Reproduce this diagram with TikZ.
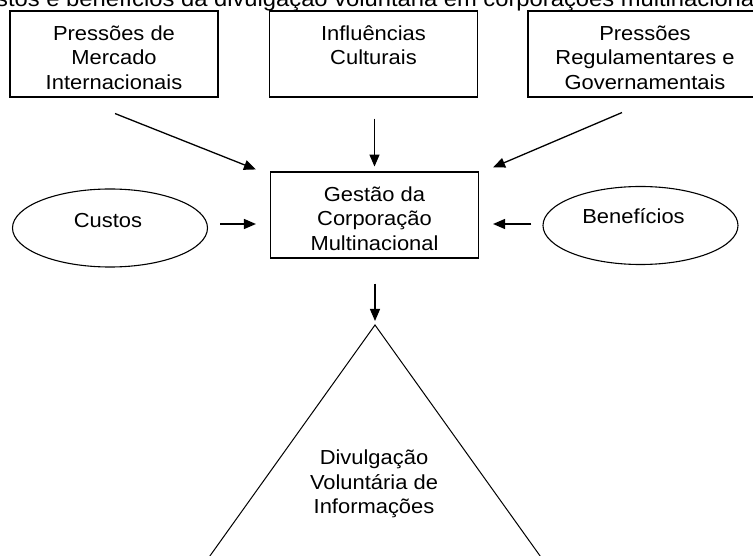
\documentclass[tikz,border=0pt]{standalone}
\usepackage{fontspec}
\setmainfont[FakeStretch=1.08]{Liberation Sans}
\usetikzlibrary{calc,shapes.geometric,arrows.meta}

\tikzstyle{caixa} = [
    draw=black,
    line width=1.1pt,
    rectangle,
    inner sep=0pt,
    minimum width=208pt,
    minimum height=86pt
    ]
\tikzstyle{oval} = [
    draw=black,
    line width=1.1pt,
    ellipse,
    inner sep=0pt,
    minimum width=195pt,
    minimum height=78pt
    ]
\tikzstyle{seta} = [
    -{Triangle[length=12pt,width=10pt]},
    line width=1.3pt
    ]
\newcommand{\topo}[1]{% text at the top of a box
\parbox[c][62pt][t]{204pt}{\centering\strut #1}}
\newcommand{\ergue}[3]{% label a bit off the centre
\raisebox{#2}[\height][\depth]{\rlap{\kern#1 #3}\phantom{#3}}}

\begin{document}
\begin{tikzpicture}[x=1pt,y=-1pt,font=\fontsize{20.3}{24.5}\selectfont]
\useasboundingbox (0,0) rectangle (753,556);
\clip (0,0) rectangle (753,556);

% title, cut by the page edge
\node[anchor=base west, inner sep=0pt, font=\fontsize{22}{26}\selectfont] (titulo) at (-4,7) {stos e benefícios da divulgação voluntária em corporações multinacionais};

\node[caixa] (mercado) at (114,54) {\topo{Pressões de\\Mercado\\Internacionais}};
\node[caixa] (cultura) at (373.5,54) {\topo{Influências\\Culturais}};
\node[caixa, minimum width=234pt] (governo) at (645,54) {\topo{Pressões\\Regulamentares e\\Governamentais}};

\node[caixa] (gestao) at (374.5,215) {\topo{Gestão da\\Corporação\\Multinacional}};
\node[oval] (custos) at (110,228) {\ergue{-2pt}{7pt}{Custos}};
\node[oval] (beneficios) at (640.5,225.5) {\ergue{-7pt}{9pt}{Benefícios}};

\coordinate (apice) at (375,325);
\draw[line width=1pt] (apice) -- ++(-198,277) -- ++(396,0) -- cycle;
\node[align=center] (divulgacao) at (374,484) {Divulgação\\Voluntária de\\Informações};

\draw[seta] ($(mercado.south)+(1,16)$) -- ($(gestao.north west)+(-14,-2)$);
\draw[seta] ($(cultura.south)+(1,21)$) -- ($(cultura.south -| gestao.north)+(0,69)$);
\draw[seta] ($(governo.south)+(-23,15)$) -- ($(gestao.north east)+(14,-4)$);
\draw[seta] ($(custos.east)+(12,-4)$) -- ($(gestao.west)+(-14,9)$);
\draw[seta] ($(beneficios.west)+(-11,-1.5)$) -- ($(gestao.east)+(14,9)$);
\draw[seta] ($(gestao.south)+(0.5,25)$) -- ($(apice)+(0,-4)$);
\end{tikzpicture}
\end{document}
